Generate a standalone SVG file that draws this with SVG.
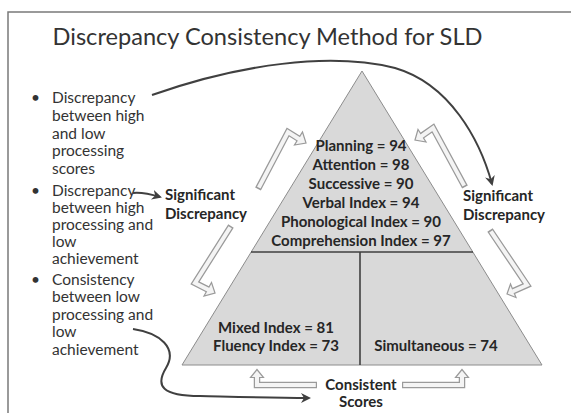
<svg xmlns="http://www.w3.org/2000/svg" width="571" height="413" viewBox="0 0 571 413">
<style>
.title{font-family:Lato,"Open Sans",sans-serif;font-size:23.6px;fill:#333}
.b{font-family:Lato,"Open Sans",sans-serif;font-size:15.5px;fill:#333}
.v{font-family:Lato,"Open Sans",sans-serif;font-size:15px;font-weight:bold;fill:#262626}
.frame{stroke:#7a7a7a;stroke-width:1.5;fill:none}
.tri{fill:#d9d9d9;stroke:#8c8c8c;stroke-width:1}
.div{stroke:#404040;stroke-width:1.6;fill:none}
.curve{stroke:#404040;stroke-width:2;fill:none}
.bo{stroke:#9a9a9a;stroke-width:6.5;fill:none;stroke-linejoin:miter}
.bi{stroke:#f4f4f4;stroke-width:4;fill:none;stroke-linejoin:miter}
.bh{fill:#f4f4f4;stroke:#9a9a9a;stroke-width:1.2;stroke-linejoin:miter}
</style>
<defs>
<marker id="ah" viewBox="0 0 10 10" refX="8" refY="5" markerWidth="5" markerHeight="5" orient="auto" markerUnits="strokeWidth">
<path d="M0,0 L10,5 L0,10 L3,5 Z" fill="#404040"/>
</marker>
</defs>
<rect width="571" height="413" fill="#fff"/>
<path class="frame" d="M8,413 L8,12 L571,12"/>
<text class="title" x="267.5" y="45" text-anchor="middle">Discrepancy Consistency Method for SLD</text>

<g id="bullets">
<text class="b" x="31" y="103">•</text>
<text class="b" x="52" y="103">Discrepancy</text>
<text class="b" x="52" y="121">between high</text>
<text class="b" x="52" y="139">and low</text>
<text class="b" x="52" y="156">processing</text>
<text class="b" x="52" y="174">scores</text>
<text class="b" x="31" y="196">•</text>
<text class="b" x="52" y="196">Discrepancy</text>
<text class="b" x="52" y="213">between high</text>
<text class="b" x="52" y="230">processing  and</text>
<text class="b" x="52" y="247">low</text>
<text class="b" x="52" y="264">achievement</text>
<text class="b" x="31" y="285">•</text>
<text class="b" x="52" y="285">Consistency</text>
<text class="b" x="52" y="302">between low</text>
<text class="b" x="52" y="320">processing and</text>
<text class="b" x="52" y="337">low</text>
<text class="b" x="52" y="355">achievement</text>
</g>

<g id="pyramid">
<path class="tri" d="M362,71 L542,365 L182,365 Z"/>
<path class="div" d="M251,252 L473,252 M360,252 L360,365"/>
</g>
<g id="top-scores">
<text class="v" x="361" y="151" text-anchor="middle">Planning = 94</text>
<text class="v" x="361" y="170" text-anchor="middle">Attention = 98</text>
<text class="v" x="361" y="189" text-anchor="middle">Successive = 90</text>
<text class="v" x="361" y="208" text-anchor="middle">Verbal Index = 94</text>
<text class="v" x="361" y="227" text-anchor="middle">Phonological Index = 90</text>
<text class="v" x="361" y="246" text-anchor="middle">Comprehension Index = 97</text>
</g>
<g id="bottom-left-scores">
<text class="v" x="276" y="333" text-anchor="middle">Mixed Index = 81</text>
<text class="v" x="276" y="351" text-anchor="middle">Fluency Index = 73</text>
</g>
<g id="bottom-right-scores">
<text class="v" x="436" y="351" text-anchor="middle">Simultaneous = 74</text>
</g>
<g id="sig-left">
<text class="v" x="165" y="200">Significant</text>
<text class="v" x="165" y="219">Discrepancy</text>
</g>
<g id="sig-right">
<text class="v" x="463" y="201">Significant</text>
<text class="v" x="463" y="220">Discrepancy</text>
</g>
<g id="consistent">
<text class="v" x="361" y="390" text-anchor="middle">Consistent</text>
<text class="v" x="361" y="407" text-anchor="middle">Scores</text>
</g>

<g id="connectors">
<path class="curve" marker-end="url(#ah)" d="M152,95 C240,64 330,52 395,68 C450,84 480,140 492,184"/>
<path class="curve" marker-end="url(#ah)" d="M133,193 C142,192 150,194 160,197"/>
<path class="curve" marker-end="url(#ah)" d="M133,329 C160,333 178,348 166,368 C155,386 162,396 200,396 C240,397 270,398 309,398"/>

<path class="bo" d="M258,189 L288,132 L300,139.5"/>
<polygon class="bh" points="306,143 302.5,132 294.5,145"/>
<path class="bi" d="M258.8,187.6 L288,132 L301,140.2"/>

<path class="bo" d="M231,226 L195,283 L209,290"/>
<polygon class="bh" points="215,293 211.5,282.5 204,296"/>
<path class="bi" d="M230.2,227.3 L195,283 L210,290.6"/>

<path class="bo" d="M465,187 L433,128 L421.5,136"/>
<polygon class="bh" points="415,140 418,129.5 426,142"/>
<path class="bi" d="M464.2,185.6 L433,128 L420.5,136.8"/>

<path class="bo" d="M490,230 L527,285 L513.5,291"/>
<polygon class="bh" points="507,294 510.5,284 516,297.5"/>
<path class="bi" d="M490.9,231.3 L527,285 L512.5,291.5"/>

<path class="bo" d="M317,385 L257,385 L257,377"/>
<polygon class="bh" points="257,369.5 250.5,377.5 263.5,377.5"/>
<path class="bi" d="M315.8,385 L257,385 L257,376"/>

<path class="bo" d="M402,385 L462,385 L462,377"/>
<polygon class="bh" points="462,369.5 455.5,377.5 468.5,377.5"/>
<path class="bi" d="M403.2,385 L462,385 L462,376"/>
</g>
</svg>
